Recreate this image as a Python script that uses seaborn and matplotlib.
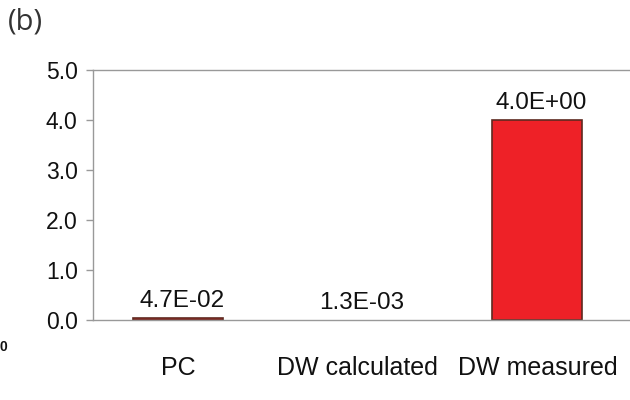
import matplotlib
matplotlib.use("Agg")
import matplotlib.pyplot as plt
import seaborn as sns
import pandas as pd

categories = ["PC", "DW calculated", "DW measured"]
values = [0.047, 0.0013, 4.0]
value_labels = ["4.7E-02", "1.3E-03", "4.0E+00"]
y_ticks = [0.0, 1.0, 2.0, 3.0, 4.0, 5.0]
y_tick_labels = ["0.0", "1.0", "2.0", "3.0", "4.0", "5.0"]

sns.set_theme(style="white")
plt.rcParams["font.family"] = ["Liberation Sans", "DejaVu Sans"]

df = pd.DataFrame({"cat": categories, "val": values})

fig = plt.figure(figsize=(6.3, 4.0), dpi=100)
ax = fig.add_axes([93 / 630, 80 / 400, 545 / 630, 250 / 400])

sns.barplot(data=df, x="cat", y="val", ax=ax, color="#EE2127",
            saturation=1, width=0.5, edgecolor="#5E2A20", linewidth=1.2)
# the tiny bar is not visibly drawn in the reference
for p in ax.patches:
    if p.get_height() < 0.01:
        p.set_linewidth(0)

ax.set_ylim(0, 5)
ax.set_xlim(-0.474, 2.56)
ax.set_yticks(y_ticks)
ax.set_yticklabels(y_tick_labels)
ax.set_xlabel("")
ax.set_ylabel("")
ax.tick_params(axis="y", which="both", left=True, length=5, width=1,
               color="#999999", labelsize=16.5, labelcolor="#111111", pad=6)
ax.tick_params(axis="x", bottom=False, labelsize=18, labelcolor="#111111", pad=20)

for side in ["left", "bottom", "top"]:
    ax.spines[side].set_visible(True)
    ax.spines[side].set_color("#999999")
    ax.spines[side].set_linewidth(1.0)
ax.spines["right"].set_visible(False)

for i, (v, lab) in enumerate(zip(values, value_labels)):
    ax.annotate(lab, xy=(i, v), xytext=(3, 4), textcoords="offset points",
                ha="center", va="bottom", fontsize=17.5, color="#111111")

fig.text(8 / 630, 1 - 22 / 400, "(b)", fontsize=21, color="#333333",
         va="center", ha="left", family=["Open Sans", "DejaVu Sans"])
fig.text(0 / 630, 1 - 347 / 400, "0", fontsize=10, fontweight="bold",
         color="#111111", va="center", ha="left")

fig.savefig("out.png", dpi=100)
